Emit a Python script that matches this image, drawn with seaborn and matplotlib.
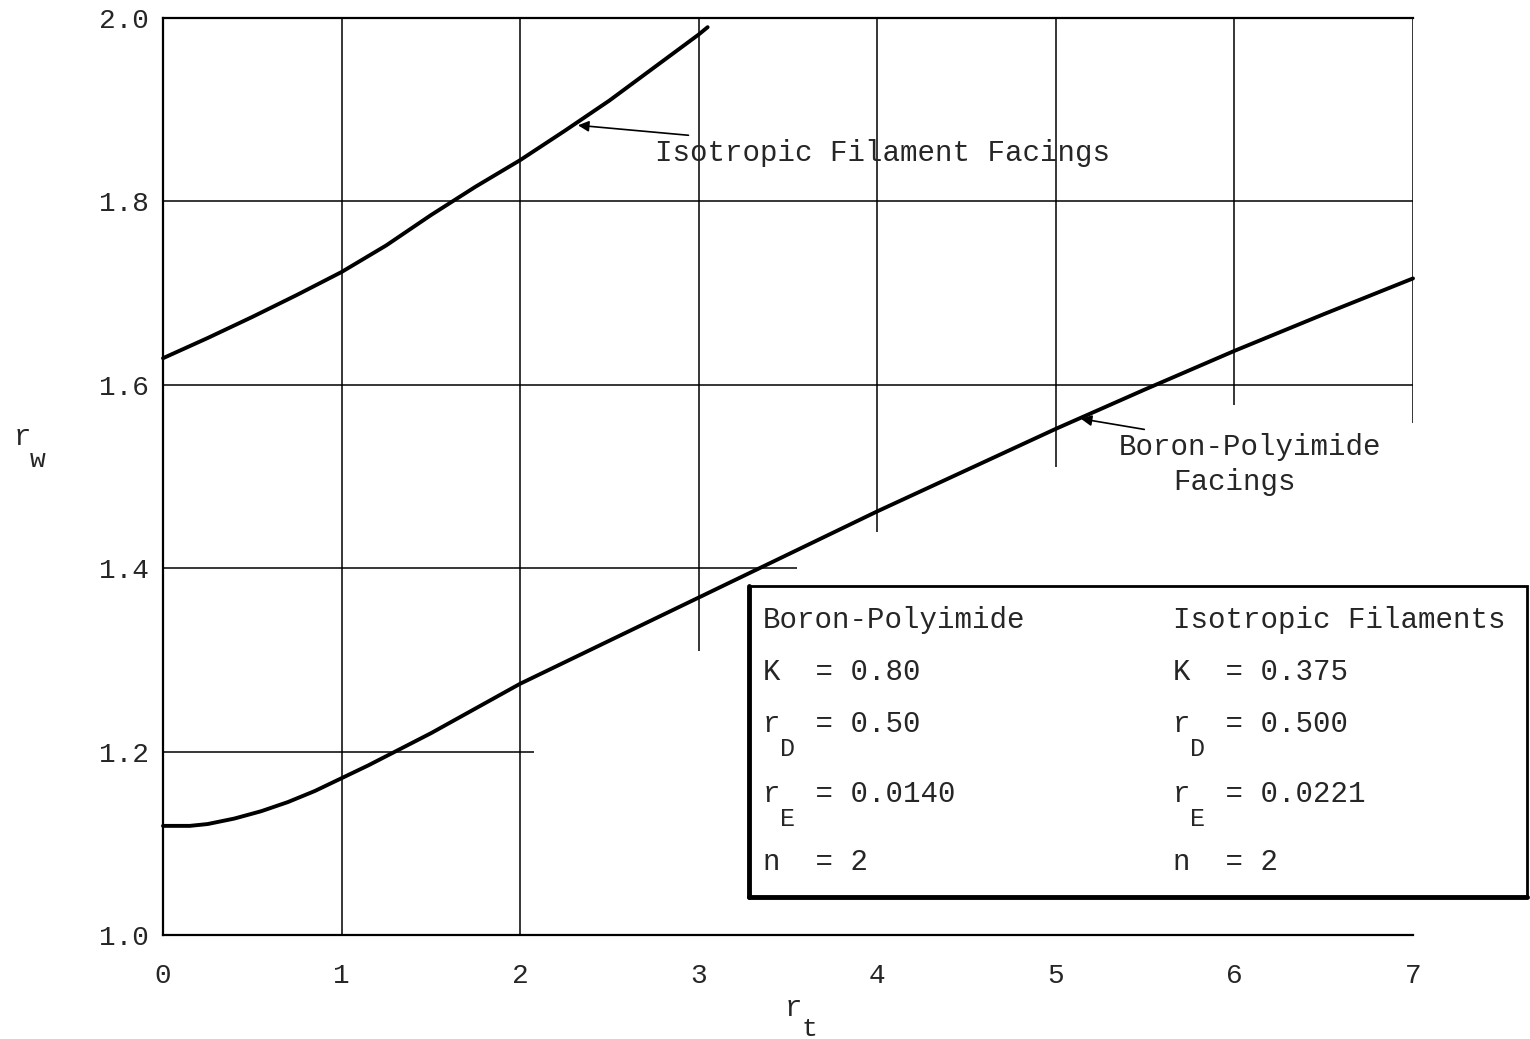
import numpy as np
import pandas as pd
import matplotlib.pyplot as plt
import seaborn as sns
from matplotlib.patches import Rectangle

# curve readings from the chart
iso_rt = [0, 0.25, 0.5, 0.75, 1, 1.25, 1.5, 1.75, 2, 2.25, 2.5, 2.75, 3, 3.05]
iso_rw = [1.629, 1.651, 1.674, 1.698, 1.723, 1.752, 1.785, 1.816, 1.845,
          1.877, 1.910, 1.946, 1.982, 1.990]
bp_rt = [0, 0.15, 0.25, 0.4, 0.55, 0.7, 0.85, 1, 1.15, 1.3, 1.5, 1.75, 2,
         2.5, 3, 3.5, 4, 4.5, 5, 5.5, 6, 6.5, 7]
bp_rw = [1.119, 1.119, 1.121, 1.127, 1.135, 1.145, 1.157, 1.171, 1.185,
         1.200, 1.220, 1.247, 1.274, 1.321, 1.368, 1.415, 1.462, 1.507,
         1.552, 1.595, 1.637, 1.677, 1.716]

x_ticks = [0, 1, 2, 3, 4, 5, 6, 7]
y_ticks = [1.0, 1.2, 1.4, 1.6, 1.8, 2.0]
y_labels = ["1.0", "1.2", "1.4", "1.6", "1.8", "2.0"]

# partial grid lines as drawn on the original
vgrid_x = [1, 2, 3, 4, 5, 6, 7]
vgrid_low = [1.0, 1.0, 1.31, 1.439, 1.51, 1.578, 1.558]
hgrid_y = [1.2, 1.4, 1.6, 1.8]
hgrid_right = [2.08, 3.55, 7.0, 7.0]

box_rows = [
    ("Boron-Polyimide", "Isotropic Filaments", ""),
    ("K  = 0.80", "K  = 0.375", ""),
    ("r  = 0.50", "r  = 0.500", "D"),
    ("r  = 0.0140", "r  = 0.0221", "E"),
    ("n  = 2", "n  = 2", ""),
]
box_row_y = [1.3435, 1.2868, 1.230, 1.1537, 1.0796]

sns.set_style("white")
plt.rcParams['font.family'] = ['Liberation Mono', 'DejaVu Sans']

df = pd.concat([
    pd.DataFrame({"rt": iso_rt, "rw": iso_rw, "facing": "Isotropic"}),
    pd.DataFrame({"rt": bp_rt, "rw": bp_rw, "facing": "Boron"}),
])

fig = plt.figure(figsize=(15.3, 10.39), dpi=100)
ax = fig.add_axes([163/1530, 104/1039, 1250/1530, 917/1039])

sns.lineplot(data=df, x="rt", y="rw", hue="facing", palette=["black", "black"],
             linewidth=2.8, sort=False, legend=False, ax=ax, zorder=3)
for ln in ax.lines:
    ln.set_clip_on(False)
    ln.set_solid_joinstyle("round")

ax.vlines(vgrid_x, vgrid_low, 2.0, color="black", lw=1.1, zorder=1)
ax.hlines(hgrid_y, 0, hgrid_right, color="black", lw=1.1, zorder=1)

ax.set_xlim(0, 7)
ax.set_ylim(1.0, 2.0)
ax.set_xticks(x_ticks)
ax.set_yticks(y_ticks)
ax.set_yticklabels(y_labels)
ax.set_xticks([4, 5, 6, 7], minor=True)
ax.tick_params(axis="both", which="major", length=0, labelsize=20)
ax.tick_params(axis="x", which="major", pad=20)
ax.tick_params(axis="y", which="major", pad=10)
ax.tick_params(axis="x", which="minor", direction="inout", length=22,
               width=1.3, color="black")
ax.set_xlabel("")
ax.set_ylabel("")
for side in ["left", "top", "bottom"]:
    ax.spines[side].set_color("black")
    ax.spines[side].set_linewidth(1.6)
ax.spines["right"].set_visible(False)

# axis labels with subscripts
fig.text(14/1530, 1 - 437/1039, "r", fontsize=21, va="center", ha="left")
fig.text(30/1530, 1 - 460/1039, "w", fontsize=19, va="center", ha="left")
fig.text(785/1530, 1 - 1008/1039, "r", fontsize=21, va="center", ha="left")
fig.text(801/1530, 1 - 1029/1039, "t", fontsize=19, va="center", ha="left")

# curve annotations
ax.annotate("Isotropic Filament Facings", xy=(2.324, 1.883), xytext=(2.755, 1.853),
            fontsize=21, va="center", ha="left",
            arrowprops=dict(arrowstyle="-|>", color="black", lw=1.2,
                            mutation_scale=16, shrinkA=2, shrinkB=0))
ax.annotate("Boron-Polyimide", xy=(5.14, 1.563), xytext=(5.35, 1.532),
            fontsize=21, va="center", ha="left",
            arrowprops=dict(arrowstyle="-|>", color="black", lw=1.2,
                            mutation_scale=16, shrinkA=2, shrinkB=0))
ax.text(6.0, 1.494, "Facings", fontsize=21, va="center", ha="center")

# parameter box
box = Rectangle((3.28, 1.041), 7.64 - 3.28, 1.381 - 1.041, facecolor="white",
                edgecolor="black", lw=2.0, clip_on=False, zorder=5)
ax.add_patch(box)
ax.plot([3.28, 3.28], [1.041, 1.381], color="black", lw=3.5, clip_on=False, zorder=6)
ax.plot([3.28, 7.64], [1.041, 1.041], color="black", lw=3.5, clip_on=False, zorder=6)

col_x = [3.36, 5.656]
char_w = 17.8 / 178.57
for (left, right, sub), yy in zip(box_rows, box_row_y):
    ax.text(col_x[0], yy, left, fontsize=21, va="center", ha="left", zorder=7)
    ax.text(col_x[1], yy, right, fontsize=21, va="center", ha="left", zorder=7)
    if sub:
        for cx in col_x:
            ax.text(cx + char_w * 0.95, yy - 0.027, sub, fontsize=18,
                    va="center", ha="left", zorder=7)

fig.savefig("out.png", dpi=100, facecolor="white")
